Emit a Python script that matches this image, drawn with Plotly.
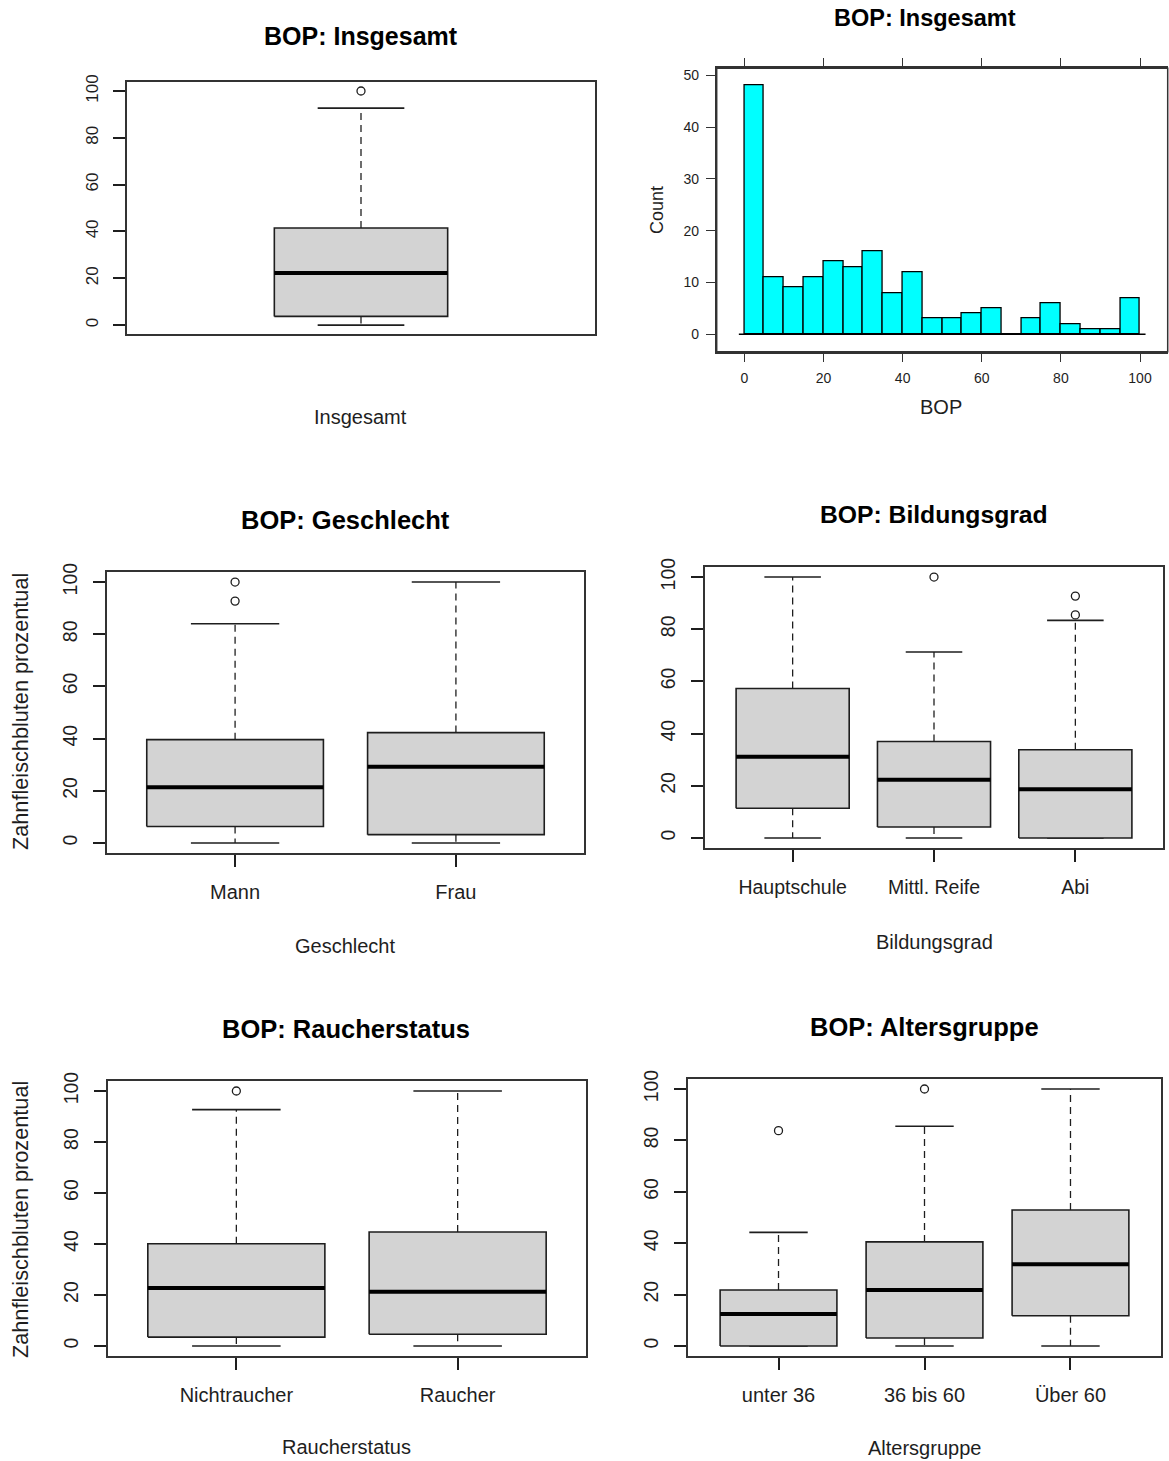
import plotly.graph_objects as go

# ---------------- data ----------------
# histogram of BOP (bleeding on probing, %), 5-point bins
hist_breaks = list(range(0, 105, 5))
hist_counts = [48, 11, 9, 11, 14, 13, 16, 8, 12, 3, 3, 4, 5, 0, 3, 6, 2, 1, 1, 7]
hist_xticks = [0, 20, 40, 60, 80, 100]
hist_yticks = [0, 10, 20, 30, 40, 50]

# boxplot summaries: [lower whisker, Q1, median, Q3, upper whisker] and outliers
insg_groups = ["Insgesamt"]
insg_stats = [[0, 3.7, 22.3, 41.5, 92.7]]
insg_out = [[100]]

geschl_groups = ["Mann", "Frau"]
geschl_stats = [[0, 6.3, 21.4, 39.6, 84.0], [0, 3.2, 29.2, 42.3, 100]]
geschl_out = [[100, 92.7], []]

bildung_groups = ["Hauptschule", "Mittl. Reife", "Abi"]
bildung_stats = [[0, 11.4, 31.1, 57.3, 100], [0, 4.2, 22.3, 37.0, 71.3],
                 [0, 0, 18.7, 33.8, 83.4]]
bildung_out = [[], [100], [92.7, 85.5]]

raucher_groups = ["Nichtraucher", "Raucher"]
raucher_stats = [[0, 3.5, 22.7, 40.1, 92.7], [0, 4.6, 21.3, 44.7, 100]]
raucher_out = [[100], []]

alter_groups = ["unter 36", "36 bis 60", "Über 60"]
alter_stats = [[0, 0, 12.5, 21.8, 44.2], [0, 3.1, 21.8, 40.5, 85.5],
               [0, 11.8, 31.8, 52.9, 100]]
alter_out = [[83.8], [100], []]

box_yticks = [0, 20, 40, 60, 80, 100]

# ---------------- layout helpers ----------------
W, H = 1169, 1461
# vertical placement is pre-compensated for a 9 px offset at the top of the page
SY = H / (H + 9)
OY = 9

FONT = "Liberation Sans, Arial, sans-serif"
INK = "#1e1e1e"
FRAME = "#333333"

fig = go.Figure()


def fx(x):
    return x


def fy(y):
    return y / SY - OY


def px_dom_x(l, r):
    return [max(0.0, fx(l) / W), min(1.0, fx(r) / W)]


def px_dom_y(t, b):
    return [max(0.0, 1 - fy(b) / H), min(1.0, 1 - fy(t) / H)]


def ax_names(k):
    return ("x" if k == 1 else f"x{k}", "y" if k == 1 else f"y{k}")


def add_boxplot(k, stats, outs, half):
    xa, ya = ax_names(k)
    common = dict(xaxis=xa, yaxis=ya, hoverinfo="skip", showlegend=False)
    for i, (st, out) in enumerate(zip(stats, outs)):
        c = i + 1
        lo, q1, med, q3, hi = st
        # dashed whiskers
        fig.add_trace(go.Scatter(x=[c, c, None, c, c], y=[q3, hi, None, q1, lo],
                                 mode="lines",
                                 line=dict(color=INK, width=1.3, dash="7px,5px"),
                                 **common))
        # staples
        s = half / 2
        fig.add_trace(go.Scatter(x=[c - s, c + s, None, c - s, c + s],
                                 y=[hi, hi, None, lo, lo], mode="lines",
                                 line=dict(color=INK, width=1.6), **common))
        # box body
        fig.add_trace(go.Scatter(x=[c - half, c + half, c + half, c - half, c - half],
                                 y=[q1, q1, q3, q3, q1], mode="lines", fill="toself",
                                 fillcolor="#D3D3D3",
                                 line=dict(color=INK, width=1.6), **common))
        # median
        fig.add_trace(go.Scatter(x=[c - half, c + half], y=[med, med], mode="lines",
                                 line=dict(color="#000000", width=4), **common))
        if out:
            fig.add_trace(go.Scatter(x=[c] * len(out), y=out, mode="markers",
                                     marker=dict(symbol="circle-open", size=8,
                                                 color=INK, line=dict(width=1.3)),
                                     **common))


def box_axes(k, groups, frame, tick_size, cat_size=20, show_xticks=True):
    l, t, r, b = frame
    n = len(groups)
    ext = 0.04 * n
    xa = dict(domain=px_dom_x(l, r), range=[0.5 - ext, n + 0.5 + ext],
              showline=True, mirror=True, linecolor=FRAME, linewidth=1.6,
              showgrid=False, zeroline=False, fixedrange=True,
              anchor=ax_names(k)[1])
    if show_xticks:
        xa.update(tickmode="array", tickvals=list(range(1, n + 1)), ticktext=groups,
                  ticks="outside", ticklen=12, tickwidth=1.5, tickcolor=INK,
                  tickfont=dict(size=cat_size, color=INK, family=FONT),
                  ticklabelstandoff=8)
    else:
        xa.update(showticklabels=False, ticks="")
    ya = dict(domain=px_dom_y(t, b), range=[-4, 104], tickmode="array",
              tickvals=box_yticks, ticktext=[str(v) for v in box_yticks],
              tickangle=-90, ticks="outside", ticklen=12, tickwidth=1.5,
              tickcolor=INK, tickfont=dict(size=tick_size, color=INK, family=FONT),
              showline=True, mirror=True, linecolor=FRAME, linewidth=1.6,
              showgrid=False, zeroline=False, fixedrange=True,
              anchor=ax_names(k)[0], ticklabelstandoff=8)
    key = "" if k == 1 else str(k)
    fig.update_layout(**{f"xaxis{key}": xa, f"yaxis{key}": ya})


def text(s, x, y, size, bold=False, angle=0):
    fig.add_annotation(text=f"<b>{s}</b>" if bold else s, x=fx(x) / W,
                       y=1 - fy(y) / H, xref="paper", yref="paper",
                       xanchor="center", yanchor="middle",
                       showarrow=False, textangle=angle,
                       font=dict(size=size, color="#000000" if bold else INK,
                                 family=FONT))


# ---------------- panel 1: overall boxplot ----------------
add_boxplot(1, insg_stats, insg_out, 0.2)
box_axes(1, insg_groups, (127, 81.6, 595, 334.4), 17, show_xticks=False)
text("BOP: Insgesamt", 361, 36, 25, bold=True)
text("Insgesamt", 360, 417, 20)

# ---------------- panel 2: histogram ----------------
centers = [(a + b) / 2 for a, b in zip(hist_breaks[:-1], hist_breaks[1:])]
widths = [b - a for a, b in zip(hist_breaks[:-1], hist_breaks[1:])]
fig.add_trace(go.Bar(x=centers, y=hist_counts, width=widths,
                     marker=dict(color="#00FFFF", line=dict(color="#000000", width=1.3)),
                     xaxis="x2", yaxis="y2", hoverinfo="skip", showlegend=False))
fig.add_trace(go.Scatter(x=[hist_breaks[0] - 1.4, hist_breaks[-1] + 1.4], y=[0, 0],
                         mode="lines", line=dict(color="#000000", width=1.5),
                         xaxis="x2", yaxis="y2", hoverinfo="skip", showlegend=False))
h_left, h_right = 716.7, 1167.7            # panel frame in page pixels
h_top, h_bottom = 68.3, 351.7
h_lo, h_hi = -7, 107                       # lattice x limits
h_ppu = (fx(h_right) - fx(h_left)) / (h_hi - h_lo)
h_dom = px_dom_x(h_left, h_right)
h_range_hi = h_lo + (h_dom[1] * W - fx(h_left)) / h_ppu
h_ydom = px_dom_y(h_top, h_bottom)
fig.update_layout(
    xaxis2=dict(domain=h_dom, range=[h_lo, h_range_hi], tickmode="array",
                tickvals=hist_xticks, ticks="outside", ticklen=9, tickwidth=1.3,
                tickcolor=FRAME, mirror="ticks", showline=True, linecolor=FRAME,
                linewidth=1.5, showgrid=False, zeroline=False, fixedrange=True,
                tickfont=dict(size=14, color=INK, family=FONT), anchor="y2",
                ticklabelstandoff=4),
    yaxis2=dict(domain=h_ydom, range=[-3.36, 51.36], tickmode="array",
                tickvals=hist_yticks, ticks="outside", ticklen=9, tickwidth=1.3,
                tickcolor=FRAME, mirror=False, showline=True, linecolor=FRAME,
                linewidth=1.5, showgrid=False, zeroline=False, fixedrange=True,
                tickfont=dict(size=14, color=INK, family=FONT), anchor="x2",
                ticklabelstandoff=4),
    bargap=0,
)
# full panel border
fig.add_shape(type="rect", xref="paper", yref="paper",
              x0=h_dom[0], x1=h_dom[1], y0=h_ydom[0], y1=h_ydom[1],
              line=dict(color=FRAME, width=1.5), layer="above")
text("BOP: Insgesamt", 925, 18, 23.5, bold=True)
text("Count", 657, 210, 18, angle=-90)
text("BOP", 941, 407, 20)

# ---------------- panel 3: Geschlecht ----------------
add_boxplot(3, geschl_stats, geschl_out, 0.4)
box_axes(3, geschl_groups, (107, 571.6, 584, 853.4), 19.5)
text("BOP: Geschlecht", 345, 520, 25.5, bold=True)
text("Zahnfleischbluten prozentual", 20, 712, 21.7, angle=-90)
text("Geschlecht", 345, 946, 20)

# ---------------- panel 4: Bildungsgrad ----------------
add_boxplot(4, bildung_stats, bildung_out, 0.4)
box_axes(4, bildung_groups, (705, 566.6, 1163, 848.4), 19.5, cat_size=19.5)
text("BOP: Bildungsgrad", 934, 514, 24.7, bold=True)
text("Bildungsgrad", 934, 942, 20)

# ---------------- panel 5: Raucherstatus ----------------
add_boxplot(5, raucher_stats, raucher_out, 0.4)
box_axes(5, raucher_groups, (108, 1080.8, 586, 1356.2), 19.5)
text("BOP: Raucherstatus", 346, 1029, 25.5, bold=True)
text("Zahnfleischbluten prozentual", 20, 1220, 21.7, angle=-90)
text("Raucherstatus", 346, 1447, 20)

# ---------------- panel 6: Altersgruppe ----------------
add_boxplot(6, alter_stats, alter_out, 0.4)
box_axes(6, alter_groups, (688, 1078.7, 1161, 1356.3), 19.5)
text("BOP: Altersgruppe", 924, 1027, 25.5, bold=True)
text("Altersgruppe", 924, 1448, 20)

fig.update_layout(width=W, height=H, autosize=False,
                  margin=dict(l=0, r=0, t=0, b=0),
                  plot_bgcolor="white", paper_bgcolor="white",
                  showlegend=False, font=dict(family=FONT, color=INK))

fig.write_html("out.html")
